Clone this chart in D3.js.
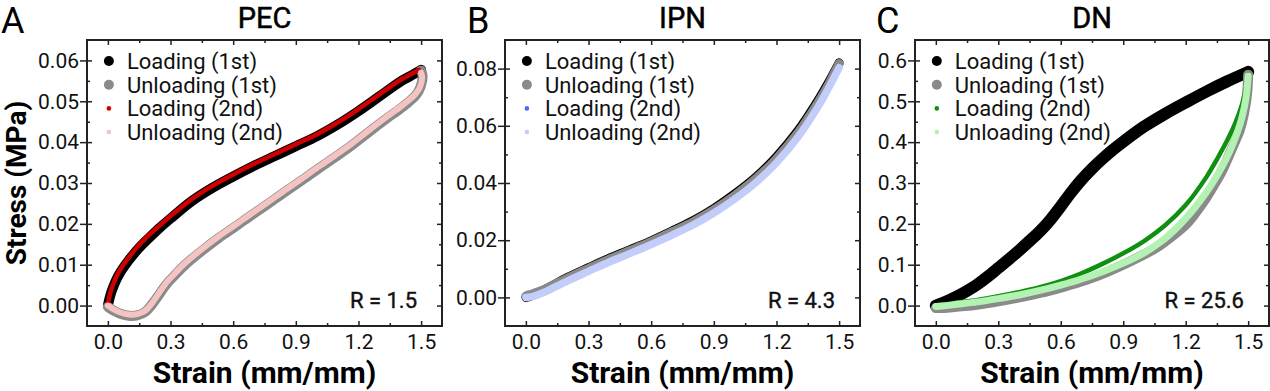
<!DOCTYPE html>
<html><head><meta charset="utf-8">
<script src="https://cdn.jsdelivr.net/npm/d3@7"></script>
<style>body{margin:0;background:#fff} svg{display:block} text{font-family:Roboto,"Noto Sans",sans-serif}</style>
</head><body><svg id="c" width="1270" height="391"></svg>
<script>
// ---------- DATA ----------
const panelLetters = ["A", "B", "C"];
const panelTitles = ["PEC", "IPN", "DN"];
const ratioLabels = ["R = 1.5", "R = 4.3", "R = 25.6"];
const legendLabels = ["Loading (1st)", "Unloading (1st)", "Loading (2nd)", "Unloading (2nd)"];
const xTitle = "Strain (mm/mm)";
const yTitle = "Stress (MPa)";
const xMajorTicks = [0, 0.3, 0.6, 0.9, 1.2, 1.5];
const xMinorTicks = [0.15, 0.45, 0.75, 1.05, 1.35];
const pecYTicks = [0, 0.01, 0.02, 0.03, 0.04, 0.05, 0.06];
const pecYMinor = [0.005, 0.015, 0.025, 0.035, 0.045, 0.055];
const ipnYTicks = [0, 0.02, 0.04, 0.06, 0.08];
const ipnYMinor = [0.01, 0.03, 0.05, 0.07];
const dnYTicks = [0, 0.1, 0.2, 0.3, 0.4, 0.5, 0.6];
const dnYMinor = [0.05, 0.15, 0.25, 0.35, 0.45, 0.55];

// PEC  [strain, stress]
const pecLoad1 = [[0,0],[0.01,0.0022],[0.02,0.0038],[0.04,0.0063],[0.06,0.0082],[0.08,0.0097],[0.1,0.0111],[0.13,0.0130],[0.16,0.0147],[0.2,0.0167],[0.25,0.0191],[0.3,0.0213],[0.4,0.0255],[0.5,0.0288],[0.6,0.0316],[0.7,0.0342],[0.8,0.0366],[0.9,0.039],[1.0,0.0414],[1.1,0.0443],[1.2,0.0476],[1.3,0.0512],[1.4,0.0548],[1.45,0.0562],[1.5,0.0577]];
const pecUnload1 = [[1.5,0.0575],[1.507,0.0562],[1.497,0.0535],[1.475,0.0515],[1.44,0.0498],[1.4,0.0482],[1.33,0.0456],[1.25,0.0425],[1.17,0.0393],[1.09,0.0364],[1.01,0.0336],[0.93,0.0307],[0.85,0.0279],[0.77,0.0250],[0.69,0.0222],[0.61,0.0193],[0.53,0.0165],[0.45,0.0134],[0.37,0.0100],[0.32,0.0074],[0.28,0.0052],[0.24,0.0023],[0.21,0.0002],[0.18,-0.0015],[0.14,-0.0024],[0.1,-0.0025],[0.06,-0.0020],[0.03,-0.0013],[0,-0.0003]];
const pecLoad2 = [[0,0.0005],[0.01,0.0028],[0.02,0.0045],[0.04,0.0070],[0.06,0.0089],[0.08,0.0104],[0.1,0.0118],[0.13,0.0137],[0.16,0.0154],[0.2,0.0174],[0.25,0.0197],[0.3,0.0219],[0.4,0.0260],[0.5,0.0293],[0.6,0.0321],[0.7,0.0347],[0.8,0.0371],[0.9,0.0395],[1.0,0.0419],[1.1,0.0448],[1.2,0.0481],[1.3,0.0517],[1.4,0.0552],[1.45,0.0566],[1.49,0.0577]];
const pecUnload2 = [[1.5,0.057],[1.505,0.0558],[1.494,0.0534],[1.47,0.0516],[1.435,0.0500],[1.4,0.0486],[1.33,0.0460],[1.25,0.0429],[1.17,0.0397],[1.09,0.0368],[1.01,0.0340],[0.93,0.0311],[0.85,0.0283],[0.77,0.0254],[0.69,0.0226],[0.61,0.0197],[0.53,0.0169],[0.45,0.0138],[0.37,0.0104],[0.32,0.0078],[0.28,0.0056],[0.24,0.0027],[0.21,0.0005],[0.18,-0.0012],[0.14,-0.0021],[0.1,-0.0022],[0.06,-0.0017],[0.03,-0.0010],[0,0.0]];

// IPN
const ipnLoad1 = [[0,0],[0.02,0.0004],[0.06,0.0017],[0.1,0.0031],[0.2,0.0070],[0.3,0.0104],[0.4,0.0137],[0.5,0.0167],[0.6,0.0198],[0.7,0.0232],[0.8,0.0268],[0.9,0.0311],[1.0,0.0362],[1.1,0.0420],[1.2,0.0492],[1.3,0.0580],[1.4,0.0690],[1.45,0.0752],[1.5,0.0820]];
const ipnUnload1 = [[1.5,0.0818],[1.45,0.0745],[1.4,0.0682],[1.3,0.0572],[1.2,0.0485],[1.1,0.0414],[1.0,0.0356],[0.9,0.0306],[0.8,0.0264],[0.7,0.0229],[0.6,0.0195],[0.5,0.0164],[0.4,0.0134],[0.3,0.0101],[0.2,0.0068],[0.1,0.0032],[0.06,0.0020],[0.03,0.0012],[0.01,0.0008],[0,0.0005]];
const ipnLoad2 = [[0.02,0.0],[0.06,0.0010],[0.1,0.0023],[0.2,0.0061],[0.3,0.0095],[0.4,0.0128],[0.5,0.0158],[0.6,0.0189],[0.7,0.0222],[0.8,0.0258],[0.9,0.0300],[1.0,0.0350],[1.1,0.0408],[1.2,0.0478],[1.3,0.0565],[1.4,0.0674],[1.45,0.0737],[1.5,0.0805]];
const ipnUnload2 = [[1.5,0.0803],[1.45,0.0733],[1.4,0.0668],[1.3,0.0558],[1.2,0.0471],[1.1,0.0401],[1.0,0.0344],[0.9,0.0295],[0.8,0.0253],[0.7,0.0218],[0.6,0.0185],[0.5,0.0154],[0.4,0.0124],[0.3,0.0091],[0.2,0.0058],[0.1,0.0022],[0.06,0.0010],[0.03,0.0003],[0,0.0]];

// DN
const dnLoad1 = [[0,0],[0.05,0.010],[0.1,0.022],[0.15,0.036],[0.2,0.052],[0.25,0.071],[0.3,0.092],[0.35,0.113],[0.4,0.135],[0.45,0.158],[0.5,0.182],[0.55,0.210],[0.6,0.243],[0.65,0.277],[0.7,0.308],[0.75,0.335],[0.8,0.359],[0.85,0.381],[0.9,0.401],[1.0,0.438],[1.1,0.469],[1.2,0.497],[1.3,0.524],[1.4,0.549],[1.5,0.572]];
const dnUnload1 = [[1.5,0.565],[1.495,0.52],[1.48,0.47],[1.46,0.43],[1.44,0.405],[1.41,0.37],[1.375,0.33],[1.33,0.29],[1.29,0.257],[1.24,0.222],[1.2,0.198],[1.14,0.172],[1.06,0.142],[0.98,0.120],[0.9,0.100],[0.82,0.082],[0.74,0.066],[0.66,0.053],[0.58,0.041],[0.5,0.031],[0.42,0.022],[0.34,0.014],[0.26,0.007],[0.18,0.001],[0.1,-0.003],[0.04,-0.006],[0,-0.006]];
const dnLoad2 = [[0,0],[0.1,0.007],[0.2,0.014],[0.3,0.023],[0.4,0.033],[0.5,0.045],[0.6,0.060],[0.7,0.079],[0.8,0.102],[0.9,0.128],[1.0,0.158],[1.1,0.196],[1.2,0.246],[1.3,0.315],[1.35,0.358],[1.4,0.405],[1.44,0.449],[1.47,0.492],[1.49,0.532],[1.5,0.566]];
const dnUnload2 = [[1.5,0.562],[1.49,0.51],[1.47,0.46],[1.44,0.413],[1.41,0.376],[1.37,0.336],[1.32,0.293],[1.27,0.257],[1.22,0.225],[1.16,0.192],[1.08,0.156],[1.0,0.129],[0.9,0.104],[0.8,0.083],[0.7,0.065],[0.6,0.050],[0.5,0.037],[0.4,0.026],[0.3,0.017],[0.2,0.009],[0.1,0.003],[0.03,-0.001],[0,-0.002]];

// ---------- DRAW ----------
const svg = d3.select("#c");
const panels = [
  {left:87, right:442, letterX:1, yDomain:[-0.005,0.065], yTicks:pecYTicks, yMinor:pecYMinor, fmt:d3.format(".2f"),
   series:[pecLoad1, pecUnload1, pecLoad2, pecUnload2], colors:["#000","#8a8a8a","#d00000","#f6c3c3"], widths:[10,10,4.5,6], leg:[5,5,2.3,2.3]},
  {left:505, right:860, letterX:467, yDomain:[-0.01,0.09], yTicks:ipnYTicks, yMinor:ipnYMinor, fmt:d3.format(".2f"),
   series:[ipnLoad1, ipnUnload1, ipnLoad2, ipnUnload2], colors:["#000","#8a8a8a","#4d6af5","#c3cdfa"], widths:[9,9,2.2,7.5], leg:[5,5,2.3,2.3]},
  {left:915, right:1269, letterX:876, yDomain:[-0.05,0.65], yTicks:dnYTicks, yMinor:dnYMinor, fmt:d3.format(".1f"),
   series:[dnLoad1, dnUnload1, dnLoad2, dnUnload2], colors:["#000","#8a8a8a","#109010","#b3f2b3"], widths:[12,10,4.5,7], leg:[5,5,2.3,2.3]}
];
const plotTop = 40, plotBottom = 326;
const axisColor = "#222";

panels.forEach((p, i) => {
  const x = d3.scaleLinear().domain([-0.1, 1.6]).range([p.left, p.right]);
  const y = d3.scaleLinear().domain(p.yDomain).range([plotBottom, plotTop]);
  const g = svg.append("g");

  // data curves
  const line = d3.line().x(d => x(d[0])).y(d => y(d[1])).curve(d3.curveCatmullRom.alpha(0.5));
  p.series.forEach((s, k) => {
    g.append("path").attr("d", line(s)).attr("fill", "none")
      .attr("stroke", p.colors[k]).attr("stroke-width", p.widths[k])
      .attr("stroke-linecap", "round").attr("stroke-linejoin", "round");
  });

  const styleTicks = sel => { sel.select(".domain").remove(); sel.selectAll("line").attr("stroke", axisColor).attr("stroke-width", 1.5); };

  // bottom ticks (inward) and labels
  g.append("g").attr("transform", `translate(0,${plotBottom})`).call(d3.axisBottom(x).tickValues(xMajorTicks).tickSize(-5).tickFormat("")).call(styleTicks);
  g.append("g").attr("transform", `translate(0,${plotBottom})`).call(d3.axisBottom(x).tickValues(xMinorTicks).tickSize(-3).tickFormat("")).call(styleTicks);
  const xl = g.append("g").attr("transform", `translate(0,${plotBottom})`).call(d3.axisBottom(x).tickValues(xMajorTicks).tickSize(0).tickPadding(8).tickFormat(d3.format(".1f")));
  xl.select(".domain").remove();
  xl.selectAll("text").attr("font-size", 21).attr("font-family", "Roboto").attr("fill", "#111");
  // top ticks (inward)
  g.append("g").attr("transform", `translate(0,${plotTop})`).call(d3.axisTop(x).tickValues(xMajorTicks).tickSize(-5).tickFormat("")).call(styleTicks);
  g.append("g").attr("transform", `translate(0,${plotTop})`).call(d3.axisTop(x).tickValues(xMinorTicks).tickSize(-3).tickFormat("")).call(styleTicks);

  // left ticks: majors cross, minors inward
  g.append("g").attr("transform", `translate(${p.left},0)`).call(d3.axisLeft(y).tickValues(p.yTicks).tickSize(7).tickFormat("")).call(styleTicks);
  g.append("g").attr("transform", `translate(${p.left},0)`).call(d3.axisLeft(y).tickValues(p.yTicks).tickSize(-5).tickFormat("")).call(styleTicks);
  g.append("g").attr("transform", `translate(${p.left},0)`).call(d3.axisLeft(y).tickValues(p.yMinor).tickSize(-3).tickFormat("")).call(styleTicks);
  const yl = g.append("g").attr("transform", `translate(${p.left},0)`).call(d3.axisLeft(y).tickValues(p.yTicks).tickSize(0).tickPadding(8).tickFormat(p.fmt));
  yl.select(".domain").remove();
  yl.selectAll("text").attr("font-size", 21).attr("font-family", "Roboto").attr("fill", "#111");
  // right ticks (inward)
  g.append("g").attr("transform", `translate(${p.right},0)`).call(d3.axisRight(y).tickValues(p.yTicks).tickSize(-5).tickFormat("")).call(styleTicks);
  g.append("g").attr("transform", `translate(${p.right},0)`).call(d3.axisRight(y).tickValues(p.yMinor).tickSize(-3).tickFormat("")).call(styleTicks);

  // frame
  g.append("rect").attr("x", p.left).attr("y", plotTop).attr("width", p.right - p.left).attr("height", plotBottom - plotTop)
    .attr("fill", "none").attr("stroke", axisColor).attr("stroke-width", 2);

  // legend
  const legX = x(0) + 1;
  legendLabels.forEach((lab, k) => {
    const ly = 61 + k * 23.7;
    g.append("circle").attr("cx", legX).attr("cy", ly).attr("r", p.leg[k]).attr("fill", p.colors[k]);
    g.append("text").attr("x", legX + 18).attr("y", ly).attr("dy", "0.36em").attr("font-size", 22).attr("fill", "#111").text(lab);
  });

  // ratio label
  g.append("text").attr("x", p.right - 25).attr("y", 308).attr("text-anchor", "end")
    .attr("font-size", 22).attr("fill", "#111").attr("stroke", "#111").attr("stroke-width", 0.4).text(ratioLabels[i]);

  // titles
  g.append("text").attr("x", (p.left + p.right) / 2).attr("y", 28).attr("text-anchor", "middle")
    .attr("font-size", 29).attr("fill", "#000").attr("stroke", "#000").attr("stroke-width", 0.5).text(panelTitles[i]);
  g.append("text").attr("x", p.letterX).attr("y", 33).attr("font-size", 36).attr("fill", "#000").text(panelLetters[i]);
  g.append("text").attr("x", (p.left + p.right) / 2).attr("y", 383).attr("text-anchor", "middle")
    .attr("font-size", 30).attr("font-weight", "bold").attr("fill", "#000").text(xTitle);
  if (i === 0) {
    g.append("text").attr("transform", `translate(26,${(plotTop + plotBottom) / 2}) rotate(-90)`).attr("text-anchor", "middle")
      .attr("font-size", 28).attr("font-weight", "bold").attr("fill", "#000").text(yTitle);
  }
});
</script></body></html>
